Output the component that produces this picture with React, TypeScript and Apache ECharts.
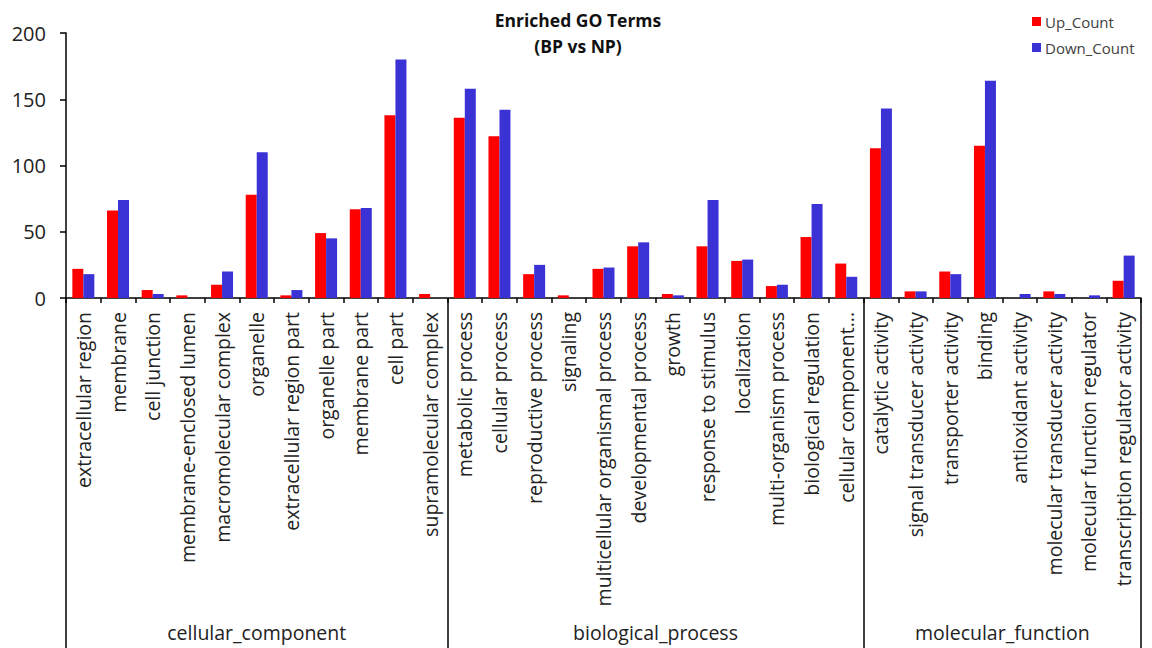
import React, { useEffect, useRef } from "react";
import * as echarts from "echarts";

const ccTerms = [
  "extracellular region", "membrane", "cell junction", "membrane-enclosed lumen",
  "macromolecular complex", "organelle", "extracellular region part", "organelle part",
  "membrane part", "cell part", "supramolecular complex",
];
const bpTerms = [
  "metabolic process", "cellular process", "reproductive process", "signaling",
  "multicellular organismal process", "developmental process", "growth",
  "response to stimulus", "localization", "multi-organism process",
  "biological regulation", "cellular component...",
];
const mfTerms = [
  "catalytic activity", "signal transducer activity", "transporter activity", "binding",
  "antioxidant activity", "molecular transducer activity",
  "molecular function regulator", "transcription regulator activity",
];
const groupNames = ["cellular_component", "biological_process", "molecular_function"];

const upCC = [22, 66, 6, 2, 10, 78, 2, 49, 67, 138, 3];
const downCC = [18, 74, 3, 0, 20, 110, 6, 45, 68, 180, 0];
const upBP = [136, 122, 18, 2, 22, 39, 3, 39, 28, 9, 46, 26];
const downBP = [158, 142, 25, 0, 23, 42, 2, 74, 29, 10, 71, 16];
const upMF = [113, 5, 20, 115, 0, 5, 0, 13];
const downMF = [143, 5, 18, 164, 3, 3, 2, 32];

const yTicks = [0, 50, 100, 150, 200];

const FONT = "'Open Sans', sans-serif";

export default function App() {
  const ref = useRef<HTMLDivElement>(null);
  useEffect(() => {
    if (!ref.current) return;
    const chart = echarts.init(ref.current, null, { renderer: "svg" });
    const categories = [...ccTerms, ...bpTerms, ...mfTerms];
    const groups = [ccTerms, bpTerms, mfTerms];
    const bounds: number[] = [0];
    groups.forEach((g) => bounds.push(bounds[bounds.length - 1] + g.length));
    const centers = groups.map((_, i) => (bounds[i] + bounds[i + 1]) / 2);
    const total = categories.length;

    chart.setOption({
      animation: false,
      backgroundColor: "#ffffff",
      textStyle: { fontFamily: FONT },
      title: {
        text: "Enriched GO Terms\n(BP vs NP)",
        left: 578,
        textAlign: "center",
        top: 7,
        padding: 0,
        textStyle: {
          fontFamily: FONT,
          fontSize: 17.5,
          fontWeight: "bold",
          color: "#111",
          lineHeight: 26,
        },
      },
      legend: {
        orient: "vertical",
        left: 1027,
        top: 9,
        itemWidth: 9,
        itemHeight: 9,
        itemGap: 11,
        icon: "rect",
        textStyle: { fontFamily: FONT, fontSize: 15, color: "#404040", padding: [0, 0, 0, -1] },
        data: ["Up_Count", "Down_Count"],
      },
      grid: { left: 66, right: 11, top: 33, bottom: 350, containLabel: false },
      xAxis: [
        {
          type: "category",
          data: categories,
          axisLine: { lineStyle: { color: "#000", width: 1.5 } },
          axisTick: { show: true, interval: 0, length: 5, lineStyle: { color: "#000", width: 1.5 } },
          axisLabel: {
            interval: 0,
            rotate: 90,
            margin: 14,
            fontFamily: FONT,
            fontSize: 19.5,
            color: "#222",
          },
        },
        {
          type: "value",
          position: "bottom",
          min: 0,
          max: total,
          axisLine: { show: false },
          splitLine: { show: false },
          axisTick: {
            show: true,
            customValues: bounds,
            length: 350,
            lineStyle: { color: "#000", width: 1.5 },
          },
          axisLabel: {
            show: true,
            customValues: centers,
            margin: 324,
            fontFamily: FONT,
            fontSize: 19.5,
            color: "#222",
            formatter: (v: number) => {
              const idx = centers.findIndex((c) => Math.abs(c - v) < 1e-6);
              return idx >= 0 ? groupNames[idx] : "";
            },
          },
        },
      ],
      yAxis: {
        type: "value",
        min: 0,
        max: 200,
        interval: 50,
        splitLine: { show: false },
        axisLine: { show: true, lineStyle: { color: "#000", width: 1.5 } },
        axisTick: { show: true, length: 6, lineStyle: { color: "#000", width: 1.5 } },
        axisLabel: {
          margin: 20,
          fontFamily: FONT,
          fontSize: 20,
          color: "#222",
          customValues: yTicks,
        },
      },
      series: [
        {
          name: "Up_Count",
          type: "bar",
          xAxisIndex: 0,
          data: [...upCC, ...upBP, ...upMF],
          barWidth: 11,
          barGap: "0%",
          itemStyle: { color: "#ff0000" },
        },
        {
          name: "Down_Count",
          type: "bar",
          xAxisIndex: 0,
          data: [...downCC, ...downBP, ...downMF],
          barWidth: 11,
          barGap: "0%",
          itemStyle: { color: "#3b32d6" },
        },
      ],
    });
    return () => chart.dispose();
  }, []);
  return (
    <div
      ref={ref}
      style={{ position: "fixed", left: 0, top: 0, width: 1152, height: 648, background: "#fff" }}
    />
  );
}
